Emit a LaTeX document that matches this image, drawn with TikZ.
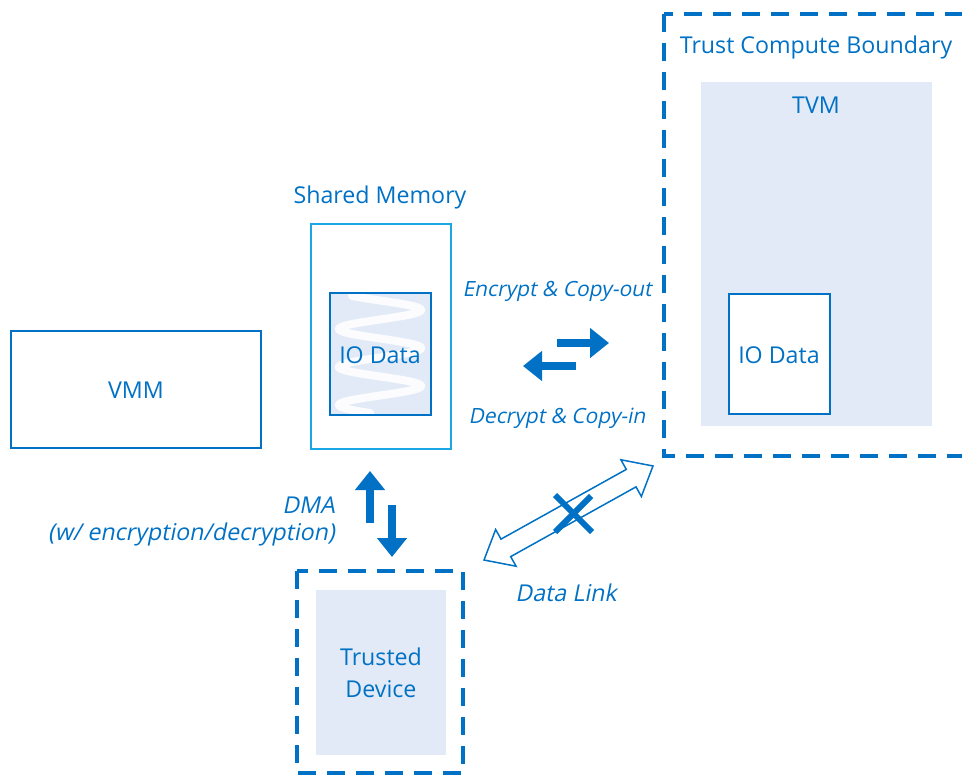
\documentclass[tikz,border=0pt]{standalone}
\usepackage{fontspec}
\setmainfont{Open Sans}
\newfontfamily\slantsans[FakeSlant=0.2]{Open Sans}
\usetikzlibrary{arrows.meta}
\definecolor{ink}{HTML}{0071C5}
\definecolor{cyanline}{HTML}{1AA7E6}
\definecolor{paleblue}{HTML}{E1EAF6}
\tikzset{
  lbl/.style={text=ink, font=\fontsize{23.2}{28}\selectfont, inner sep=0pt},
  ilbl/.style={text=ink, font=\fontsize{21}{26}\selectfont\slantsans, inner sep=0pt},
  bigilbl/.style={ilbl, font=\fontsize{23.2}{28}\selectfont\slantsans},
  boundary/.style={draw=ink, line width=3.2pt, dash pattern=on 18pt off 11pt},
  plainbox/.style={draw=ink, line width=1.3pt},
  blockarrow/.style={draw=ink, line width=7.5pt, -{Triangle[length=19pt,width=29pt]}},
  hollowarrow/.style={draw=ink, line width=1.5pt, fill=white, line join=miter},
}
\begin{document}
\begin{tikzpicture}[x=1pt,y=-1pt]
\useasboundingbox (0,0) rectangle (962,776);
\clip (0,0) rectangle (962,776);

% Trust compute boundary with the TVM
\draw[boundary] (664,14) rectangle (995,456);
\node[lbl] (tcb) at (816,47) {Trust Compute Boundary};
\fill[paleblue] (701,82) rectangle (932,426);
\node[lbl] (tvm) at (816,105) {TVM};
\draw[plainbox, fill=white] (729,294) rectangle (830,414);
\node[lbl] (tvmio) at (779,355) {IO Data};

% Shared memory with encrypted IO data
\node[lbl] (shm) at (380,197) {Shared Memory};
\draw[draw=cyanline, line width=1.5pt] (311,224) rectangle (451,449);
\fill[paleblue] (330,293) rectangle (431,415);
\begin{scope}
  \clip (330,293) rectangle (431,415);
  \draw[white, line width=8pt, opacity=0.9, line cap=round]
    plot[domain=-43:1066, samples=160, smooth] ({380+41*sin(\x)}, {300.5+\x/360*38});
\end{scope}
\draw[plainbox] (330,293) rectangle (431,415);
\node[lbl] (shmio) at (380,355) {IO Data};

% VMM
\draw[plainbox] (11,331) rectangle (261,448);
\node[lbl] (vmm) at (136,390) {VMM};

% Copy-out / copy-in arrows
\coordinate (outA) at (557,343);
\coordinate (outB) at (609,343);
\coordinate (inA) at (576,366);
\coordinate (inB) at (523,366);
\draw[blockarrow] (outA) -- (outB);
\draw[blockarrow] (inA) -- (inB);
\node[ilbl] (enc) at (557,291) {Encrypt \& Copy-out};
\node[ilbl] (dec) at (557,418) {Decrypt \& Copy-in};

% DMA arrows
\coordinate (upA) at (370,523);
\coordinate (upB) at (370,471);
\coordinate (dnA) at (392,505);
\coordinate (dnB) at (392,557);
\draw[blockarrow] (upA) -- (upB);
\draw[blockarrow] (dnA) -- (dnB);
\node[bigilbl, anchor=east] (dma) at (335,505) {DMA};
\node[bigilbl, anchor=east] (dmanote) at (335,534) {(w/ encryption/decryption)};

% Trusted device
\draw[boundary] (297,571) rectangle (463,773);
\fill[paleblue] (316,590) rectangle (446,755);
\node[lbl, align=center, font=\fontsize{23.2}{32}\selectfont] (dev) at (381,673) {Trusted\\Device};

% Blocked data link
\begin{scope}[shift={(568.5,513)}, rotate=29.1]
  \draw[hollowarrow] (-96.7,0) -- (-71.7,-21) -- (-71.7,-10) -- (71.7,-10) -- (71.7,-21)
    -- (96.7,0) -- (71.7,21) -- (71.7,10) -- (-71.7,10) -- (-71.7,21) -- cycle;
\end{scope}
\coordinate (xa) at (555,495);
\coordinate (xb) at (592,532);
\coordinate (xc) at (591,496);
\coordinate (xd) at (555,532);
\draw[ink, line width=6pt] (xa) -- (xb);
\draw[ink, line width=6pt] (xc) -- (xd);
\node[bigilbl] (link) at (566,593) {Data Link};
\end{tikzpicture}
\end{document}
